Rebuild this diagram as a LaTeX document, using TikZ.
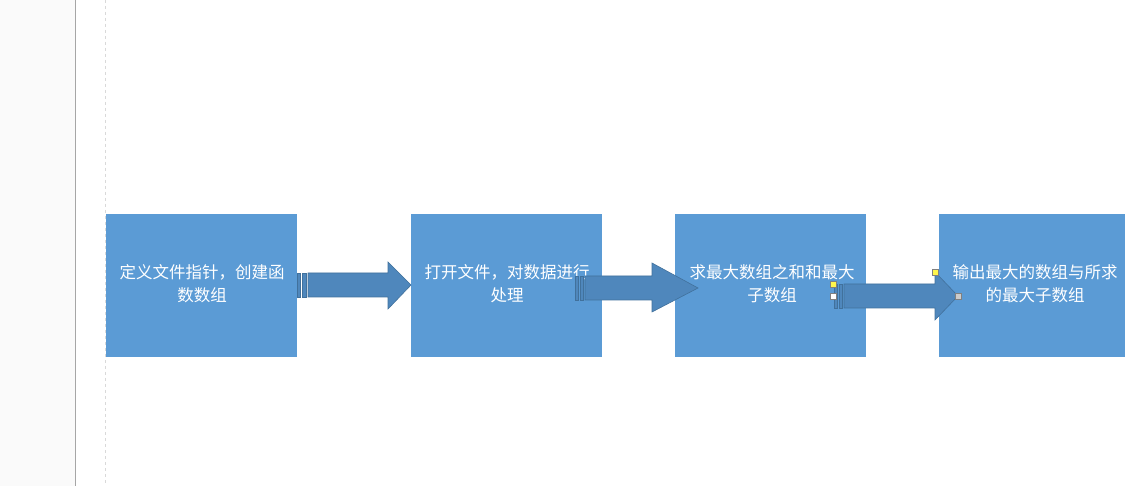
\documentclass[tikz,border=0pt]{standalone}
\usepackage{fontspec}
\newfontfamily\cjk{Noto Sans CJK SC}
\definecolor{boxblue}{HTML}{5B9BD5}
\definecolor{arrfill}{HTML}{4F87BC}
\definecolor{arredge}{HTML}{41719C}
\begin{document}
\begin{tikzpicture}[x=1pt,y=-1pt,
  stepbox/.style={fill=boxblue,draw=none,minimum width=191pt,minimum height=143pt,inner sep=0pt,anchor=north west},
  boxtext/.style={text=white,font=\cjk\fontsize{16.5}{23}\selectfont,align=center},
  arr/.style={fill=arrfill,draw=arredge,line width=0.6pt},
  handle/.style={draw=gray,line width=0.5pt,minimum size=6pt,inner sep=0pt}]
\useasboundingbox (0,0) rectangle (1125,486);
\fill[white] (0,0) rectangle (1125,486);
\fill[gray!4] (0,0) rectangle (75,486);
\draw[gray!70,line width=1pt] (75.5,0) -- (75.5,486);
\draw[gray!30,dashed] (105.5,0) -- (105.5,486);
\node[stepbox] (b1) at (106,214) {};
\node[stepbox] (b2) at (411,214) {};
\node[stepbox] (b3) at (675,214) {};
\fill[boxblue] (939,214) rectangle (1125,357);
\coordinate (b4) at (939,214);
\node[boxtext] at (202,284) {定义文件指针，创建函\\数数组};
\node[boxtext] at (507,284) {打开文件，对数据进行\\处理};
\node[boxtext] at (772,284) {求最大数组之和和最大\\子数组};
\node[boxtext] at (1035,284) {输出最大的数组与所求\\的最大子数组};
% arrow 1
\draw[arr] (297,273) rectangle (300,297);
\draw[arr] (302,273) rectangle (306,297);
\draw[arr] (308,273) -- (388,273) -- (388,262) -- (b2.west |- 0,285) -- (388,309) -- (388,297) -- (308,297) -- cycle;
% arrow 2
\draw[arr] (575,276) rectangle (578,300);
\draw[arr] (580,276) rectangle (583,300);
\draw[arr] (585,276) -- (652,276) -- (652,263) -- (698,288) -- (652,312) -- (652,300) -- (585,300) -- cycle;
% arrow 3
\draw[arr] (834,284) rectangle (837,308);
\draw[arr] (839,284) rectangle (842,308);
\draw[arr] (844,284) -- (935,284) -- (935,272) -- (958,296) -- (935,320) -- (935,308) -- (844,308) -- cycle;
\node[handle,fill=yellow!70] (h1) at (833,284) {};
\node[handle,fill=white] (h2) at (833,296) {};
\node[handle,fill=yellow!70] (h3) at (935,272) {};
\node[handle,fill=gray!40] (h4) at (958,296) {};
\end{tikzpicture}
\end{document}
